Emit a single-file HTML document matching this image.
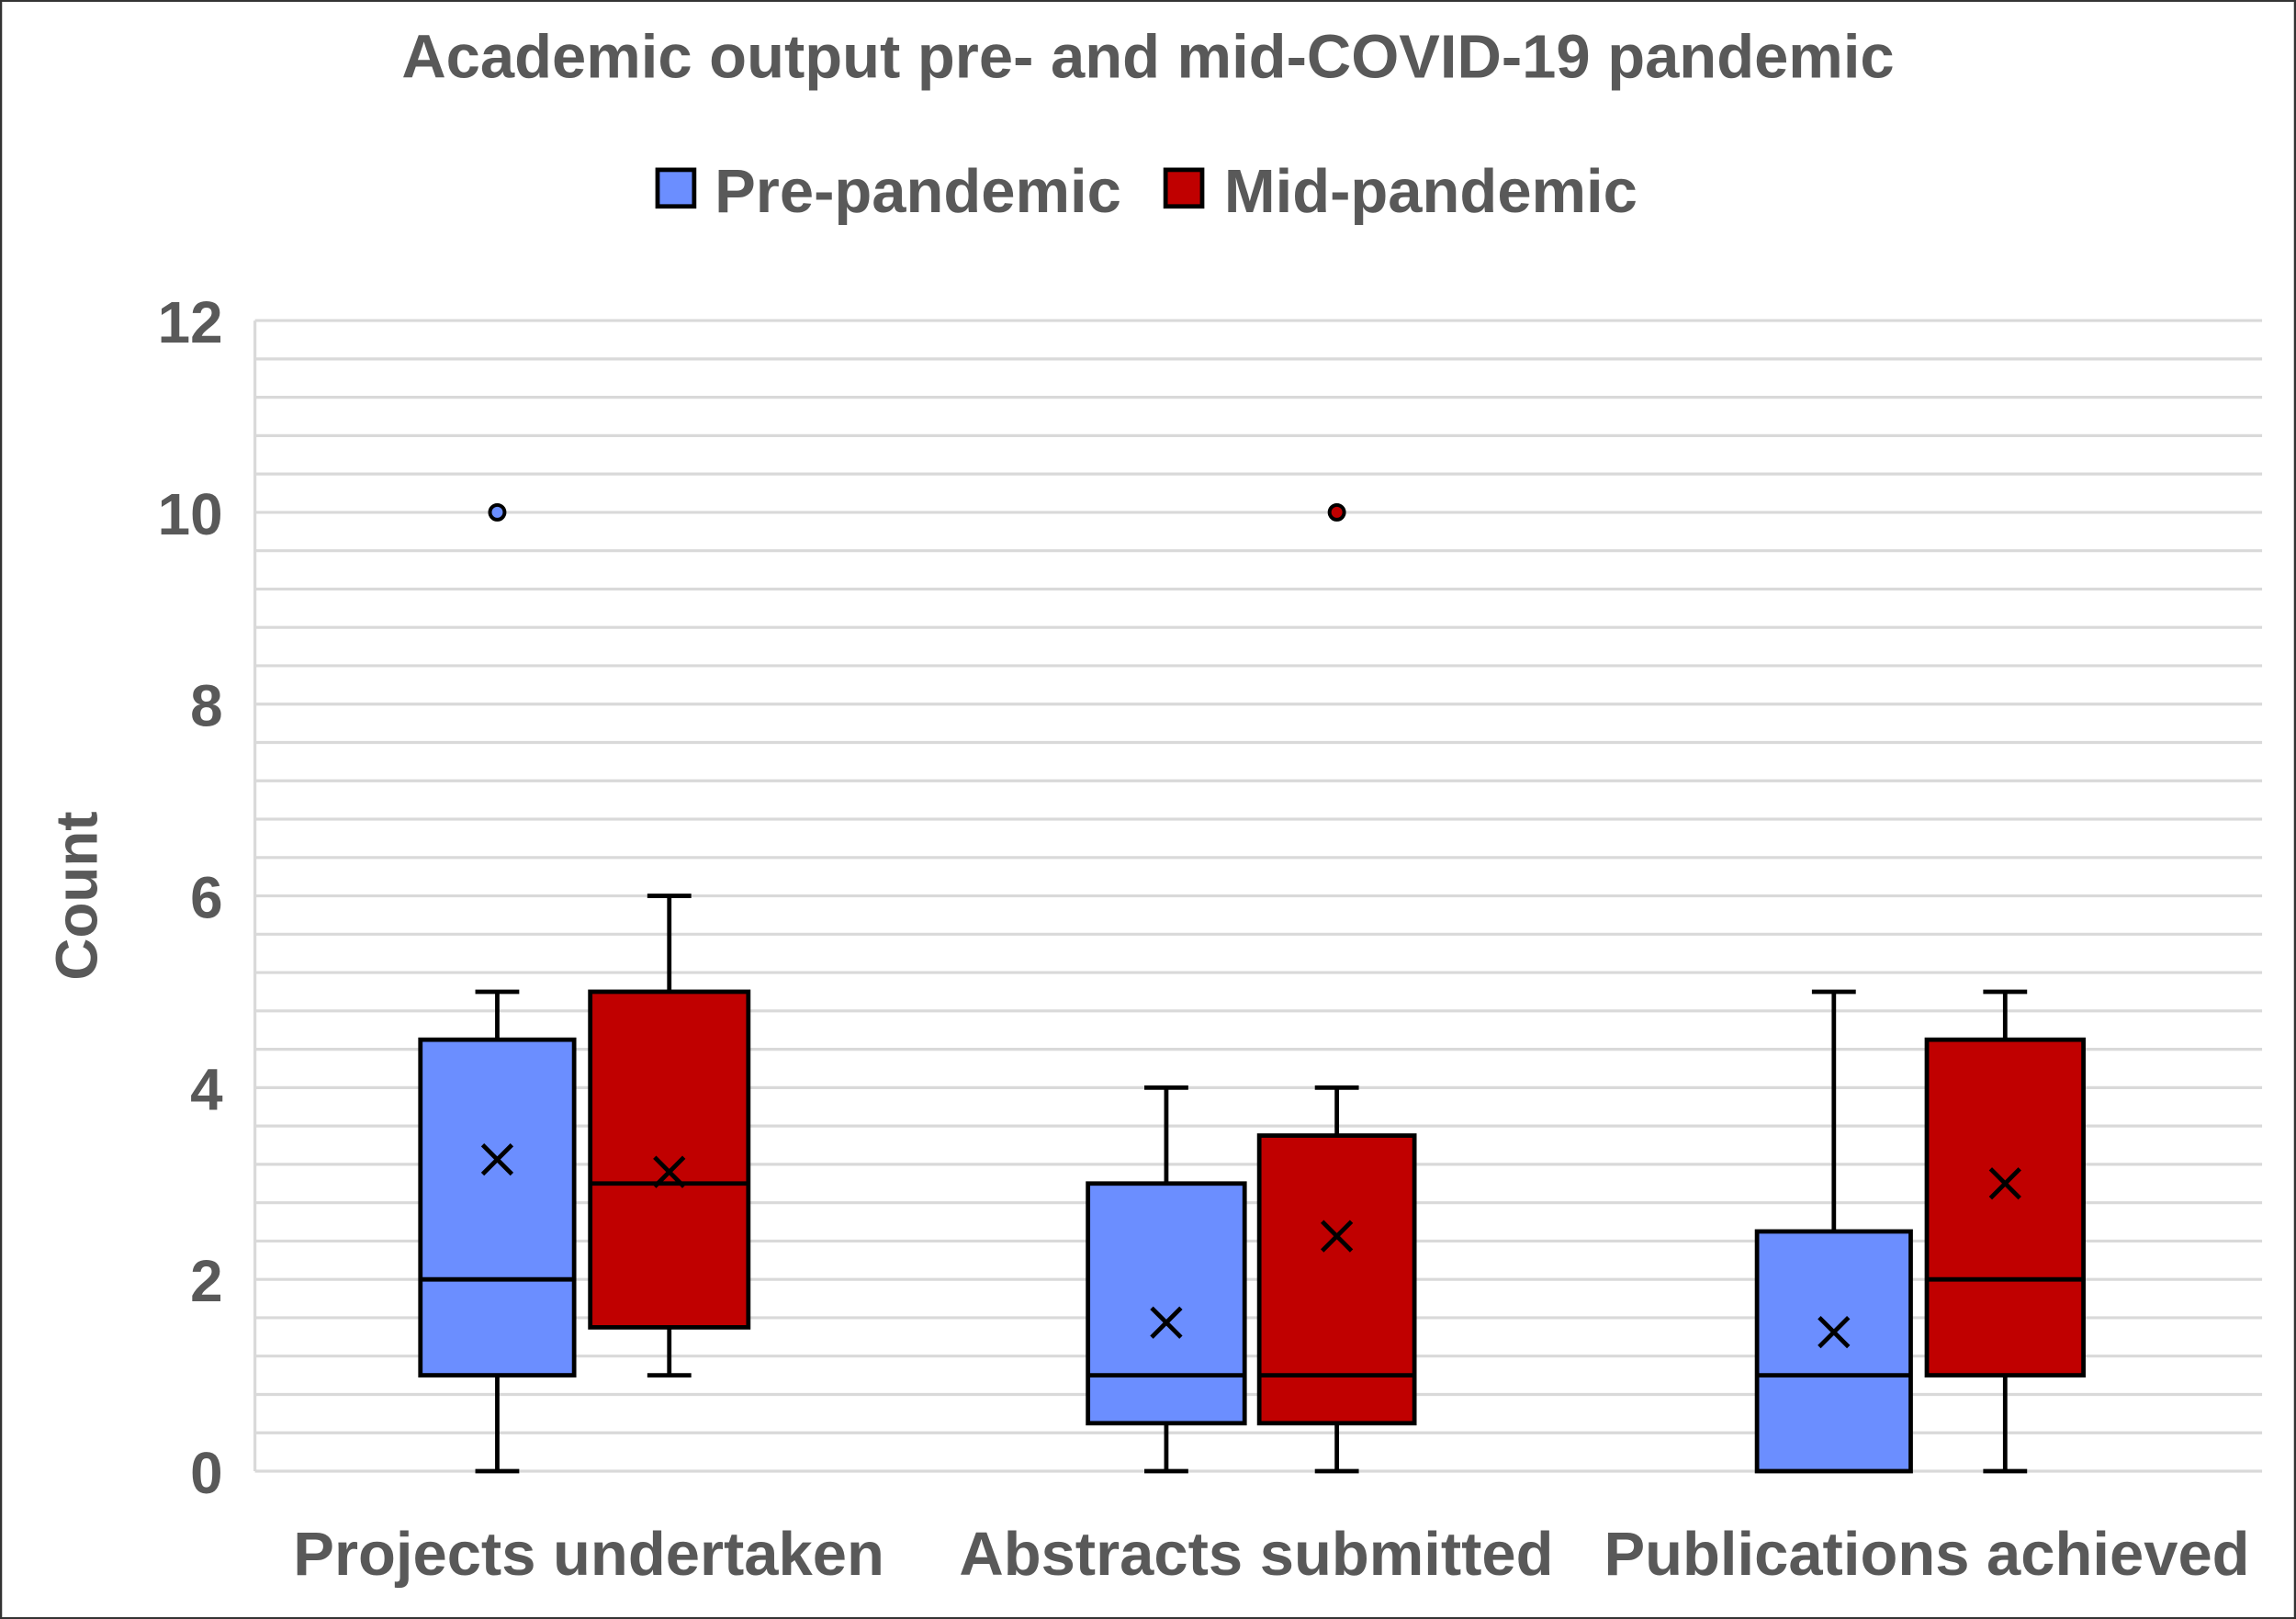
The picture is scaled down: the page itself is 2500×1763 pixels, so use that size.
<!DOCTYPE html>
<html><head><meta charset="utf-8"><style>
html,body{margin:0;padding:0;background:#fff}
svg{display:block}
text{font-family:"Liberation Sans",Arial,sans-serif;font-weight:bold;fill:#595959}
</style></head><body>
<svg width="2500" height="1763" viewBox="0 0 1568 1106" xmlns="http://www.w3.org/2000/svg">
<rect x="0.5" y="0.5" width="1567" height="1105" fill="#fff" stroke="#333" stroke-width="1.5"/>
<text x="784" y="53" font-size="42" text-anchor="middle">Academic output pre- and mid-COVID-19 pandemic</text>
<rect x="449" y="116" width="25" height="25" fill="#6B8EFF" stroke="#000" stroke-width="3"/>
<text x="488" y="145" font-size="42">Pre-pandemic</text>
<rect x="796" y="116" width="25" height="25" fill="#C00000" stroke="#000" stroke-width="3"/>
<text x="836" y="145" font-size="42">Mid-pandemic</text>
<g stroke="#d9d9d9" stroke-width="2">
<line x1="174" y1="219" x2="174" y2="1005"/>
<line x1="174" x2="1545" y1="219" y2="219"/><line x1="174" x2="1545" y1="245.2" y2="245.2"/><line x1="174" x2="1545" y1="271.4" y2="271.4"/><line x1="174" x2="1545" y1="297.6" y2="297.6"/><line x1="174" x2="1545" y1="323.8" y2="323.8"/>
<line x1="174" x2="1545" y1="350" y2="350"/><line x1="174" x2="1545" y1="376.2" y2="376.2"/><line x1="174" x2="1545" y1="402.4" y2="402.4"/><line x1="174" x2="1545" y1="428.6" y2="428.6"/><line x1="174" x2="1545" y1="454.8" y2="454.8"/>
<line x1="174" x2="1545" y1="481" y2="481"/><line x1="174" x2="1545" y1="507.2" y2="507.2"/><line x1="174" x2="1545" y1="533.4" y2="533.4"/><line x1="174" x2="1545" y1="559.6" y2="559.6"/><line x1="174" x2="1545" y1="585.8" y2="585.8"/>
<line x1="174" x2="1545" y1="612" y2="612"/><line x1="174" x2="1545" y1="638.2" y2="638.2"/><line x1="174" x2="1545" y1="664.4" y2="664.4"/><line x1="174" x2="1545" y1="690.6" y2="690.6"/><line x1="174" x2="1545" y1="716.8" y2="716.8"/>
<line x1="174" x2="1545" y1="743" y2="743"/><line x1="174" x2="1545" y1="769.2" y2="769.2"/><line x1="174" x2="1545" y1="795.4" y2="795.4"/><line x1="174" x2="1545" y1="821.6" y2="821.6"/><line x1="174" x2="1545" y1="847.8" y2="847.8"/>
<line x1="174" x2="1545" y1="874" y2="874"/><line x1="174" x2="1545" y1="900.2" y2="900.2"/><line x1="174" x2="1545" y1="926.4" y2="926.4"/><line x1="174" x2="1545" y1="952.6" y2="952.6"/><line x1="174" x2="1545" y1="978.8" y2="978.8"/>
<line x1="174" x2="1545" y1="1005" y2="1005"/>
</g>
<g font-size="40" text-anchor="end">
<text x="152" y="234">12</text><text x="152" y="365">10</text><text x="152" y="496">8</text>
<text x="152" y="627">6</text><text x="152" y="758">4</text><text x="152" y="889">2</text><text x="152" y="1020">0</text>
</g>
<text transform="translate(66,612) rotate(-90)" font-size="40" text-anchor="middle">Count</text>
<g font-size="42" text-anchor="middle">
<text x="402" y="1076">Projects undertaken</text>
<text x="858" y="1076">Abstracts submitted</text>
<text x="1316" y="1076">Publications achieved</text>
</g>
<g stroke="#000" stroke-width="3">
<!-- Projects pre -->
<line x1="339.5" x2="339.5" y1="1005" y2="939.5"/><line x1="339.5" x2="339.5" y1="710.25" y2="677.5"/>
<line x1="324.5" x2="354.5" y1="1005" y2="1005"/><line x1="324.5" x2="354.5" y1="677.5" y2="677.5"/>
<rect x="287" y="710.25" width="105" height="229.25" fill="#6B8EFF"/>
<line x1="287" x2="392" y1="874" y2="874"/>
<path d="M329.5 782.1L349.5 802.1M349.5 782.1L329.5 802.1"/>
<circle cx="339.5" cy="350" r="5" fill="#6B8EFF" stroke-width="2.5"/>
<!-- Projects mid -->
<line x1="457" x2="457" y1="939.5" y2="906.75"/><line x1="457" x2="457" y1="677.5" y2="612"/>
<line x1="442" x2="472" y1="939.5" y2="939.5"/><line x1="442" x2="472" y1="612" y2="612"/>
<rect x="403" y="677.5" width="108" height="229.25" fill="#C00000"/>
<line x1="403" x2="511" y1="808.5" y2="808.5"/>
<path d="M447 790.6L467 810.6M467 790.6L447 810.6"/>
<!-- Abstracts pre -->
<line x1="796.5" x2="796.5" y1="1005" y2="972.25"/><line x1="796.5" x2="796.5" y1="808.5" y2="743"/>
<line x1="781.5" x2="811.5" y1="1005" y2="1005"/><line x1="781.5" x2="811.5" y1="743" y2="743"/>
<rect x="743" y="808.5" width="107" height="163.75" fill="#6B8EFF"/>
<line x1="743" x2="850" y1="939.5" y2="939.5"/>
<path d="M786.5 893.5L806.5 913.5M806.5 893.5L786.5 913.5"/>
<!-- Abstracts mid -->
<line x1="913" x2="913" y1="1005" y2="972.25"/><line x1="913" x2="913" y1="775.75" y2="743"/>
<line x1="898" x2="928" y1="1005" y2="1005"/><line x1="898" x2="928" y1="743" y2="743"/>
<rect x="860" y="775.75" width="106" height="196.5" fill="#C00000"/>
<line x1="860" x2="966" y1="939.5" y2="939.5"/>
<path d="M903 834.5L923 854.5M923 834.5L903 854.5"/>
<circle cx="913" cy="350" r="5" fill="#C00000" stroke-width="2.5"/>
<!-- Publications pre -->
<line x1="1252.5" x2="1252.5" y1="841.25" y2="677.5"/>
<line x1="1237.5" x2="1267.5" y1="677.5" y2="677.5"/>
<rect x="1200" y="841.25" width="105" height="163.75" fill="#6B8EFF"/>
<line x1="1200" x2="1305" y1="939.5" y2="939.5"/>
<path d="M1242.5 900L1262.5 920M1262.5 900L1242.5 920"/>
<!-- Publications mid -->
<line x1="1369.5" x2="1369.5" y1="1005" y2="939.5"/><line x1="1369.5" x2="1369.5" y1="710.25" y2="677.5"/>
<line x1="1354.5" x2="1384.5" y1="1005" y2="1005"/><line x1="1354.5" x2="1384.5" y1="677.5" y2="677.5"/>
<rect x="1316" y="710.25" width="107" height="229.25" fill="#C00000"/>
<line x1="1316" x2="1423" y1="874" y2="874"/>
<path d="M1359.5 798.5L1379.5 818.5M1379.5 798.5L1359.5 818.5"/>
</g>
</svg>
</body></html>
